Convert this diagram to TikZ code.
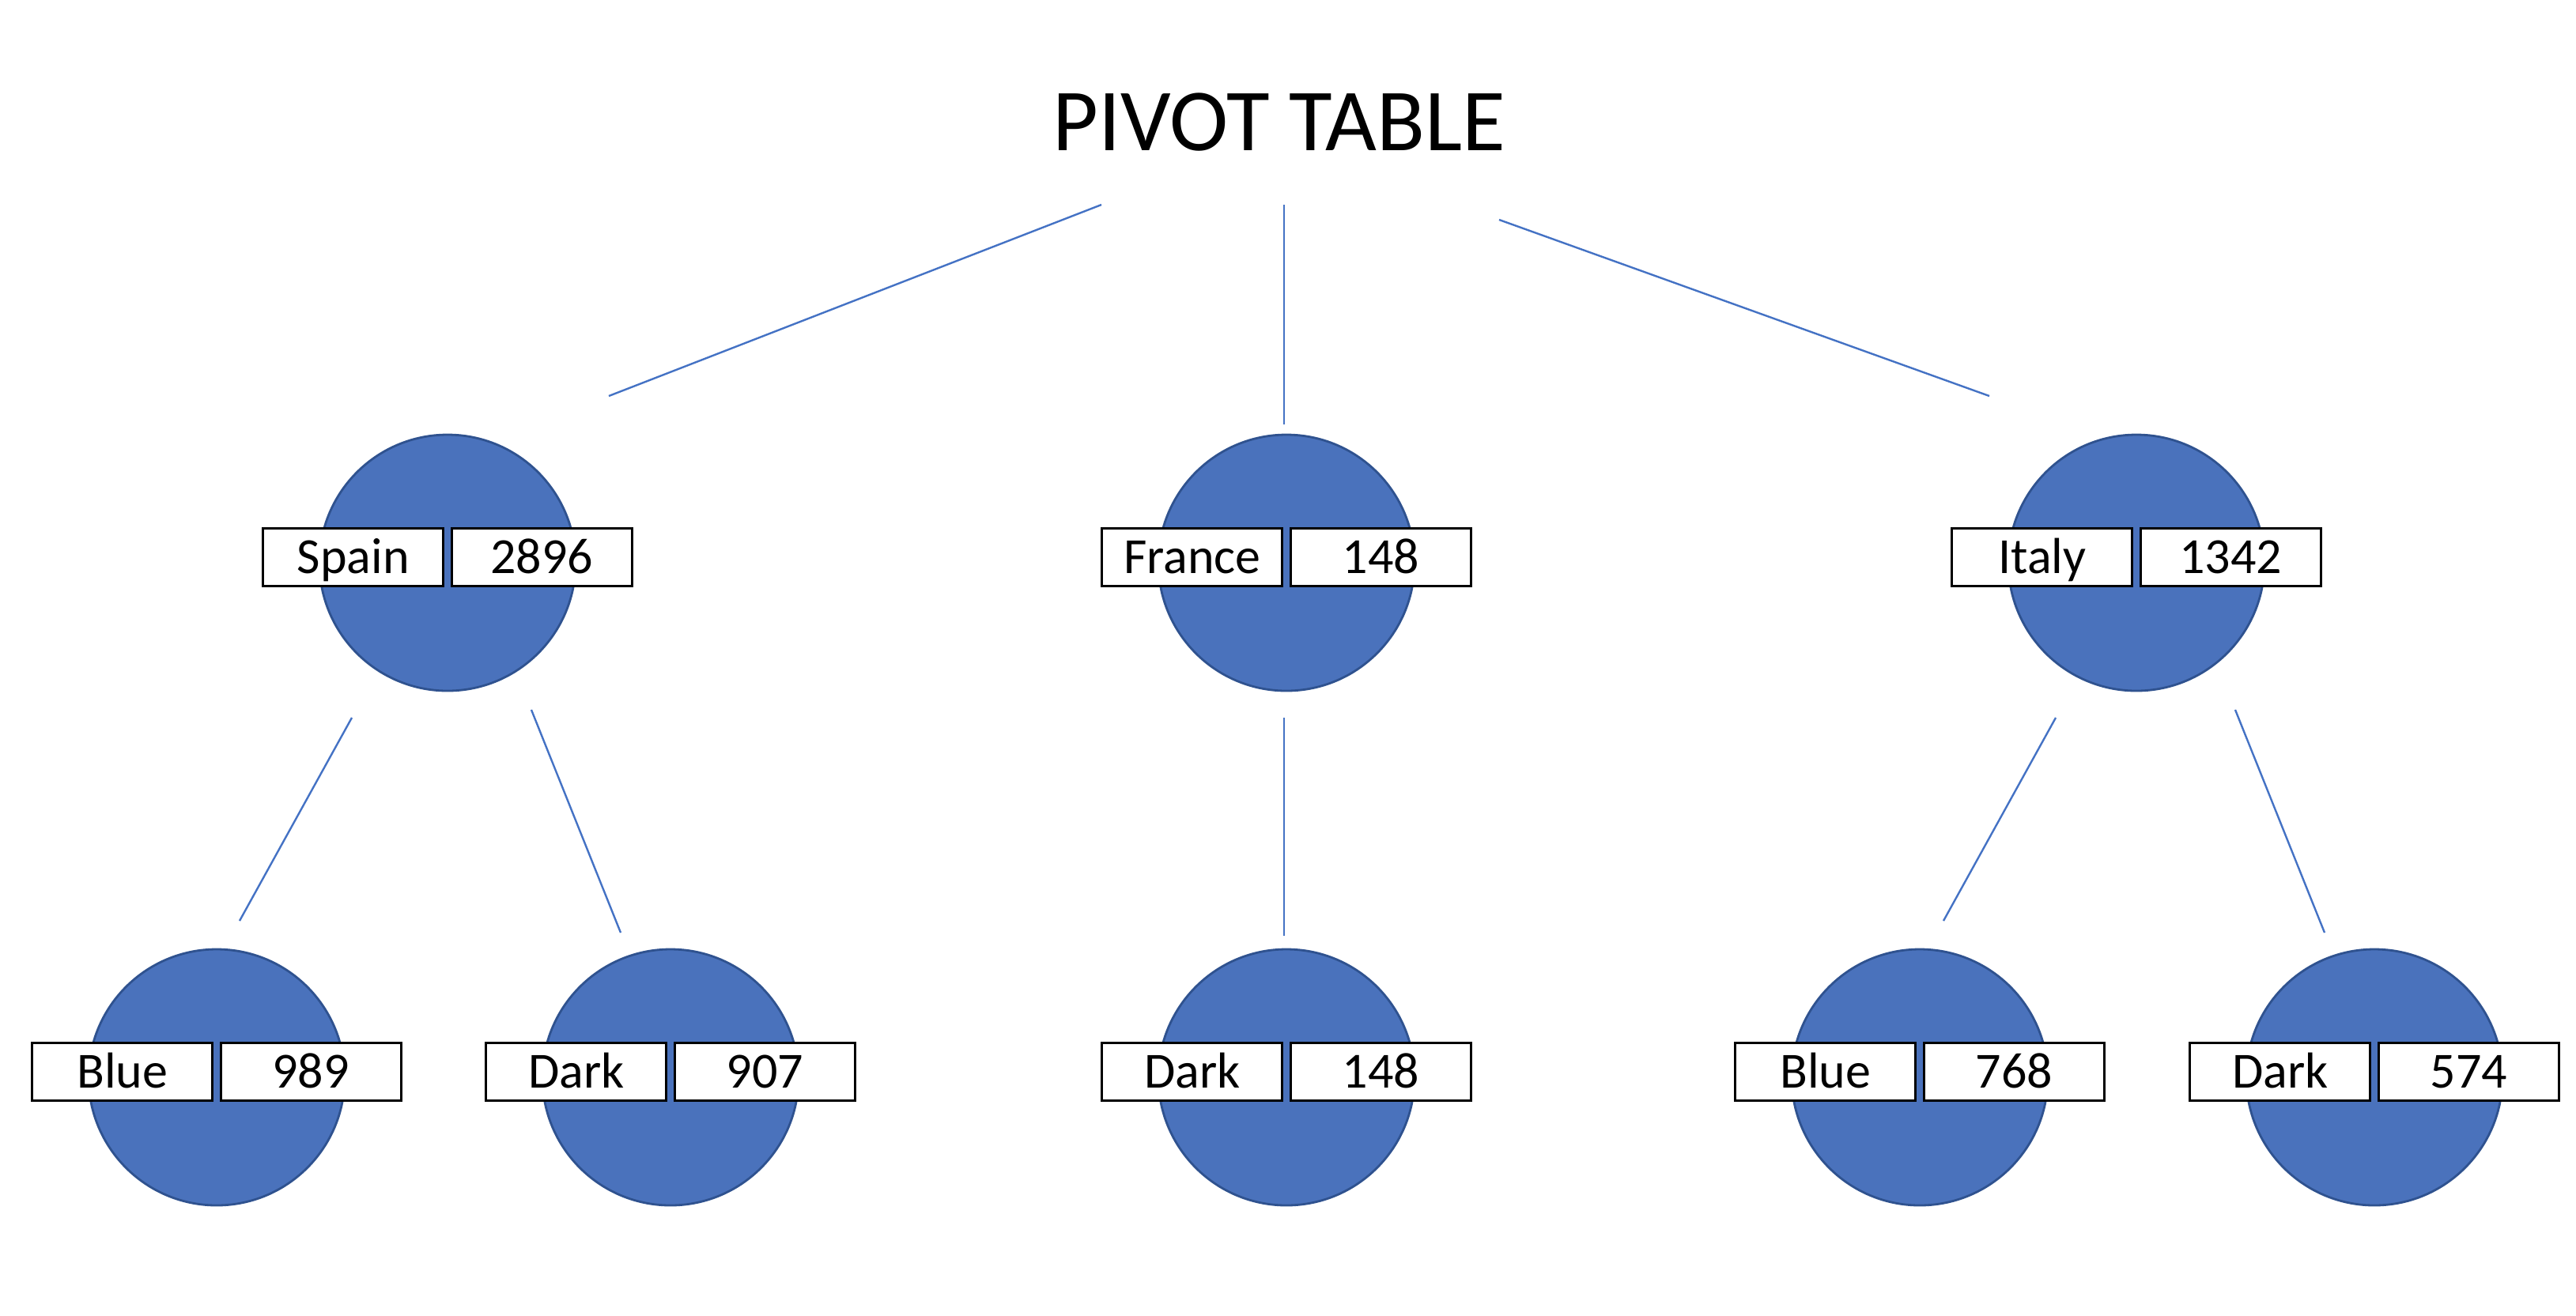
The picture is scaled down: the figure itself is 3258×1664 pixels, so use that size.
\documentclass[tikz,border=0pt]{standalone}
\usepackage{fontspec}
\setmainfont{Carlito}
\usepackage{tikz}
\usetikzlibrary{positioning}
\usetikzlibrary{calc}

\definecolor{PivotBlue}{HTML}{4A72BC}
\definecolor{PivotEdge}{HTML}{2F528F}
\definecolor{PivotLine}{HTML}{4472C4}

\tikzset{
	bubble/.style={circle, fill=PivotBlue, draw=PivotEdge, line width=0.7pt, minimum size=81pt, inner sep=0pt},
	cell/.style={rectangle, fill=white, draw=black, line width=0.8pt, minimum width=57pt, minimum height=18.25pt, inner sep=0pt, text height=10.3pt, text depth=0pt, font=\fontsize{16}{18}\selectfont},
	branch/.style={draw=PivotLine, line width=0.6pt},
}

\begin{document}
\begin{tikzpicture}[x=0.25pt, y=-0.25pt]
	
	\useasboundingbox (0,0) rectangle (3258,1664);
	
	% ---------------------
	% Title
	\node[font=\fontsize{28}{30}\selectfont] (title) at (1618,155) {PIVOT TABLE};
	
	% ---------------------
	% Countries
	\node[bubble] (spain)  at (566,712)  {};
	\node[bubble] (france) at (1627,712) {};
	\node[bubble] (italy)  at (2702,712) {};
	
	% ---------------------
	% Colours
	\node[bubble] (spainblue)  at (274,1363)  {};
	\node[bubble] (spaindark)  at (848,1363)  {};
	\node[bubble] (francedark) at (1627,1363) {};
	\node[bubble] (italyblue)  at (2428,1363) {};
	\node[bubble] (italydark)  at (3003,1363) {};
	
	% ---------------------
	% Labels & values
	\node[cell, anchor=east] (spain-k) at ([xshift=-0.9pt,yshift=1.8pt]spain.center) {Spain};
	\node[cell, anchor=west] (spain-v) at ([xshift=0.9pt,yshift=1.8pt]spain.center) {2896};
	
	\node[cell, anchor=east] (france-k) at ([xshift=-0.9pt,yshift=1.8pt]france.center) {France};
	\node[cell, anchor=west] (france-v) at ([xshift=0.9pt,yshift=1.8pt]france.center) {148};
	
	\node[cell, anchor=east] (italy-k) at ([xshift=-0.9pt,yshift=1.8pt]italy.center) {Italy};
	\node[cell, anchor=west] (italy-v) at ([xshift=0.9pt,yshift=1.8pt]italy.center) {1342};
	
	\node[cell, anchor=east] (spainblue-k) at ([xshift=-0.9pt,yshift=1.8pt]spainblue.center) {Blue};
	\node[cell, anchor=west] (spainblue-v) at ([xshift=0.9pt,yshift=1.8pt]spainblue.center) {989};
	
	\node[cell, anchor=east] (spaindark-k) at ([xshift=-0.9pt,yshift=1.8pt]spaindark.center) {Dark};
	\node[cell, anchor=west] (spaindark-v) at ([xshift=0.9pt,yshift=1.8pt]spaindark.center) {907};
	
	\node[cell, anchor=east] (francedark-k) at ([xshift=-0.9pt,yshift=1.8pt]francedark.center) {Dark};
	\node[cell, anchor=west] (francedark-v) at ([xshift=0.9pt,yshift=1.8pt]francedark.center) {148};
	
	\node[cell, anchor=east] (italyblue-k) at ([xshift=-0.9pt,yshift=1.8pt]italyblue.center) {Blue};
	\node[cell, anchor=west] (italyblue-v) at ([xshift=0.9pt,yshift=1.8pt]italyblue.center) {768};
	
	\node[cell, anchor=east] (italydark-k) at ([xshift=-0.9pt,yshift=1.8pt]italydark.center) {Dark};
	\node[cell, anchor=west] (italydark-v) at ([xshift=0.9pt,yshift=1.8pt]italydark.center) {574};
	
	% ---------------------
	% Branch end points
	\path (title) +(-225,104) coordinate (TitleSpain);
	\path (title) +(6,104)    coordinate (TitleFrance);
	\path (title) +(278,123)  coordinate (TitleItaly);
	
	\path (spain)  +(204,-211) coordinate (SpainTop);
	\path (france) +(-3,-175)  coordinate (FranceTop);
	\path (italy)  +(-186,-211) coordinate (ItalyTop);
	
	\path (spain)  +(-121,196) coordinate (SpainLeft);
	\path (spain)  +(106,186)  coordinate (SpainRight);
	\path (france) +(-3,196)   coordinate (FranceDown);
	\path (italy)  +(-102,196) coordinate (ItalyLeft);
	\path (italy)  +(125,186)  coordinate (ItalyRight);
	
	\path (spainblue)  +(29,-198)  coordinate (SpainBlueTop);
	\path (spaindark)  +(-63,-183) coordinate (SpainDarkTop);
	\path (francedark) +(-3,-179)  coordinate (FranceDarkTop);
	\path (italyblue)  +(30,-198)  coordinate (ItalyBlueTop);
	\path (italydark)  +(-63,-183) coordinate (ItalyDarkTop);
	
	% ---------------------
	% Branches
	\draw[branch] (TitleSpain) -- (SpainTop);
	\draw[branch] (TitleFrance) -- (FranceTop);
	\draw[branch] (TitleItaly) -- (ItalyTop);
	
	\draw[branch] (SpainLeft) -- (SpainBlueTop);
	\draw[branch] (SpainRight) -- (SpainDarkTop);
	\draw[branch] (FranceDown) -- (FranceDarkTop);
	\draw[branch] (ItalyLeft) -- (ItalyBlueTop);
	\draw[branch] (ItalyRight) -- (ItalyDarkTop);
	
\end{tikzpicture}
\end{document}
